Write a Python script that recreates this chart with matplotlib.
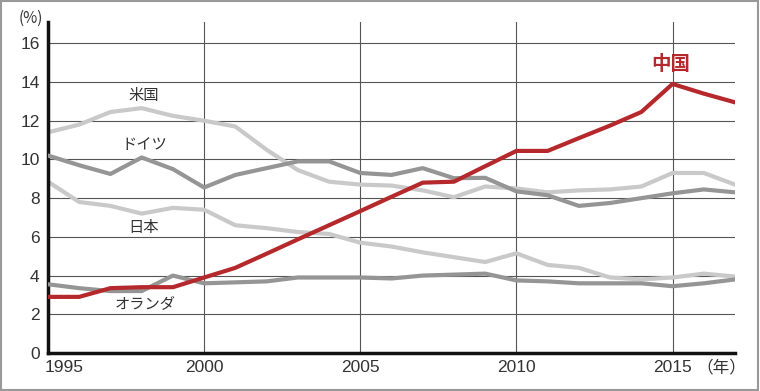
import matplotlib.pyplot as plt
from matplotlib.patches import Rectangle
import matplotlib.transforms as mtransforms

plt.rcParams['font.family'] = ['Noto Sans CJK JP', 'DejaVu Sans']

# Data (share of world exports, %)
years = list(range(1995, 2018))
china = [2.9, 2.9, 3.35, 3.4, 3.4, 3.9, 4.4, 5.13, 5.87, 6.6, 7.33, 8.07, 8.8, 8.85,
         9.65, 10.44, 10.44, 11.1, 11.75, 12.45, 13.9, 13.4, 12.95]
usa = [11.4, 11.8, 12.45, 12.65, 12.25, 12.0, 11.7, 10.5, 9.45, 8.85, 8.7, 8.65, 8.4,
       8.05, 8.6, 8.5, 8.3, 8.4, 8.45, 8.6, 9.3, 9.3, 8.7]
germany = [10.2, 9.7, 9.25, 10.1, 9.5, 8.55, 9.2, 9.55, 9.9, 9.9, 9.3, 9.2, 9.55, 9.03,
           9.05, 8.35, 8.15, 7.6, 7.75, 8.0, 8.25, 8.45, 8.3]
japan = [8.85, 7.8, 7.6, 7.2, 7.5, 7.4, 6.6, 6.45, 6.25, 6.15, 5.7, 5.5, 5.2, 4.95,
         4.7, 5.15, 4.55, 4.4, 3.9, 3.8, 3.9, 4.1, 3.95]
netherlands = [3.55, 3.35, 3.2, 3.2, 4.0, 3.6, 3.65, 3.7, 3.9, 3.9, 3.9, 3.85, 4.0, 4.05,
               4.1, 3.75, 3.7, 3.6, 3.6, 3.6, 3.45, 3.6, 3.8]

yticks = [0, 2, 4, 6, 8, 10, 12, 14, 16]
xticks = [1995, 2000, 2005, 2010, 2015]

light = '#c9c9c9'
dark = '#959595'
red = '#b5282b'
txt = '#333333'

fig = plt.figure(figsize=(7.6, 3.91), dpi=100)
ax = fig.add_axes([48 / 760, 1 - 353 / 391, 687 / 760, 331 / 391])

# grid
for y in yticks[1:]:
    ax.axhline(y, color='#555555', lw=0.8, zorder=1)
for x in xticks[1:]:
    ax.axvline(x, color='#555555', lw=0.8, zorder=1)

ax.plot(years, usa, color=light, lw=3.0, zorder=2)
ax.plot(years, japan, color=light, lw=3.0, zorder=2)
ax.plot(years, germany, color=dark, lw=3.0, zorder=3)
ax.plot(years, netherlands, color=dark, lw=3.0, zorder=3)
ax.plot(years, china, color=red, lw=3.0, zorder=4)

ax.set_xlim(1995, 2017)
ax.set_ylim(0, 17.1)
ax.set_yticks(yticks)
ax.set_xticks(xticks)
ax.tick_params(length=0, labelsize=12.5, colors=txt)
ax.tick_params(axis='y', pad=6)
ax.tick_params(axis='x', pad=5)
for lab in ax.get_xticklabels() + ax.get_yticklabels():
    lab.set_fontfamily(['Liberation Sans', 'DejaVu Sans'])
first = ax.get_xticklabels()[0]
first.set_horizontalalignment('left')
offset = mtransforms.ScaledTranslation(-3 / 100, 0, fig.dpi_scale_trans)
first.set_transform(first.get_transform() + offset)

for s in ['top', 'right']:
    ax.spines[s].set_visible(False)
for s in ['left', 'bottom']:
    ax.spines[s].set_linewidth(2.5)
    ax.spines[s].set_color('#111111')

# series labels
ax.text(1998.07, 13.28, '米国', fontsize=11, color=txt, ha='center', va='center')
ax.text(1998.07, 10.75, 'ドイツ', fontsize=11, color=txt, ha='center', va='center')
ax.text(1998.07, 6.46, '日本', fontsize=11, color=txt, ha='center', va='center')
ax.text(1998.1, 2.58, 'オランダ', fontsize=11, color=txt, ha='center', va='center')
ax.text(2014.95, 14.88, '中国', fontsize=14, color=red, fontweight='bold', ha='center', va='center')

fig.text(31 / 760, 1 - 18 / 391, '(%)', fontsize=11, color=txt, ha='center', va='center')
fig.text(721 / 760, 1 - 368 / 391, '（年）', fontsize=12, color=txt, ha='center', va='center')

# outer frame
fig.patches.append(Rectangle((0.001, 0.002), 0.997, 0.995, transform=fig.transFigure,
                             fill=False, edgecolor='#999999', lw=1.5))

fig.savefig('out.png', dpi=100)
